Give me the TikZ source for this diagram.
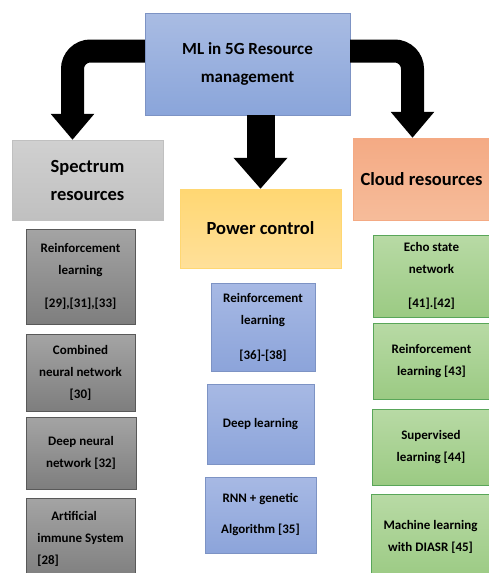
\documentclass[tikz,border=0pt]{standalone}
\usepackage{fontspec}
\setmainfont{Carlito}
\usetikzlibrary{arrows.meta}

\definecolor{mainTop}{HTML}{A9BCE3}
\definecolor{mainBot}{HTML}{8AA5DA}
\definecolor{mainLine}{HTML}{7D93C4}
\definecolor{specTop}{HTML}{D0D0D0}
\definecolor{specBot}{HTML}{C0C0C0}
\definecolor{powerTop}{HTML}{FFD772}
\definecolor{powerBot}{HTML}{FFE09A}
\definecolor{cloudTop}{HTML}{F4AA84}
\definecolor{cloudBot}{HTML}{F6BC9A}
\definecolor{grayTop}{HTML}{A4A4A4}
\definecolor{grayBot}{HTML}{7E7E7E}
\definecolor{blueTop}{HTML}{A7B9E4}
\definecolor{blueBot}{HTML}{8CA4DA}
\definecolor{greenTop}{HTML}{B8DAA5}
\definecolor{greenBot}{HTML}{9BCA83}

\begin{document}
\begin{tikzpicture}[x=1pt, y=-1pt]
            \tikzstyle{any box} = [draw, rectangle, align=center, inner sep=2pt]
            \tikzstyle{main box} = [any box, draw=mainLine, top color=mainTop, bottom color=mainBot, font=\bfseries\fontsize{17}{28}\selectfont]
            \tikzstyle{head box} = [any box, font=\bfseries\fontsize{18.5}{28}\selectfont]
            \tikzstyle{method box} = [any box, font=\bfseries\fontsize{13}{22}\selectfont]
            \tikzstyle{gray method} = [method box, draw=gray!70!black, top color=grayTop, bottom color=grayBot]
            \tikzstyle{blue method} = [method box, draw=mainLine, top color=blueTop, bottom color=blueBot]
            \tikzstyle{green method} = [method box, draw=green!30!gray, top color=greenTop, bottom color=greenBot]
            \tikzstyle{big arrow} = [line width=23pt, rounded corners=18pt, -{Triangle[length=26pt, width=42pt]}]

            \useasboundingbox (0, 0) rectangle (489, 573);

            % top and the three groups
            \node[main box, minimum width=205, minimum height=102] (ml) at (247.5, 64) {ML in 5G Resource\\management};
            \node[head box, draw=specBot, top color=specTop, bottom color=specBot, minimum width=151, minimum height=80] (spec) at (87.5, 180) {Spectrum\\resources};
            \node[head box, draw=powerTop, top color=powerTop, bottom color=powerBot, minimum width=161, minimum height=79] (power) at (260.5, 228.5) {Power control};
            \node[head box, draw=cloudTop, top color=cloudTop, bottom color=cloudBot, minimum width=137, minimum height=82] (cloud) at (421.5, 179) {Cloud resources};

            \draw[big arrow] ([yshift=13pt]ml.west) -| ([xshift=-15pt]spec.north);
            \draw[big arrow] ([yshift=13pt]ml.east) -| ([xshift=-9pt]cloud.north);
            \draw[line width=28pt, -{Triangle[length=31pt, width=52pt]}] (power.north |- ml.south) -- (power.north);

            % spectrum methods
            \node[gray method, minimum width=109, minimum height=95] (sp1) at (80.5, 276.5) {Reinforcement\\learning\\[11pt]{[29],[31],[33]}};
            \node[gray method, minimum width=109, minimum height=77] (sp2) at (80.5, 372.5) {Combined\\neural network\\{[30]}};
            \node[gray method, minimum width=110, minimum height=72] (sp3) at (81, 453) {Deep neural\\network [32]};
            \node[gray method, align=left, minimum width=109, minimum height=82] (sp4) at (80.5, 539) {\hspace*{14pt}Artificial\\immune System\\{[28]}};

            % power methods
            \node[blue method, minimum width=104, minimum height=88] (pw1) at (263, 327) {Reinforcement\\learning\\[13pt]{[36]-[38]}};
            \node[blue method, minimum width=107, minimum height=80] (pw2) at (260.5, 424) {Deep learning};
            \node[blue method, minimum width=111, minimum height=76] (pw3) at (260.5, 515) {RNN + genetic\\[9pt]Algorithm [35]};

            % cloud methods
            \node[green method, minimum width=117, minimum height=82] (cl1) at (431.5, 276) {Echo state\\network\\[12pt]{[41].[42]}};
            \node[green method, minimum width=117, minimum height=76] (cl2) at (431.5, 361) {Reinforcement\\learning [43]};
            \node[green method, minimum width=118, minimum height=76] (cl3) at (431, 447) {Supervised\\learning [44]};
            \node[green method, minimum width=119, minimum height=86] (cl4) at (430.5, 537) {Machine learning\\with DIASR [45]};

        \end{tikzpicture}
\end{document}
